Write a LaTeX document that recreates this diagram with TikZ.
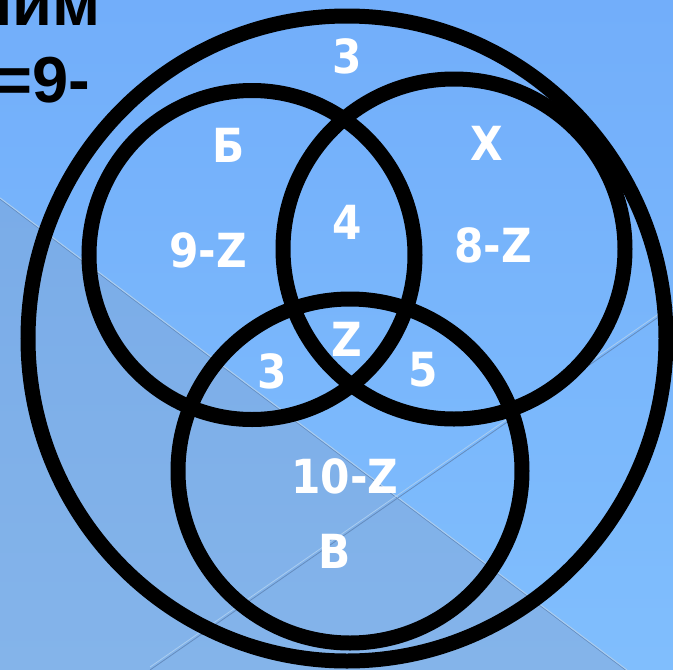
\documentclass[tikz,border=0pt]{standalone}
\usepackage{fontspec}
\setmainfont{Liberation Sans}
\newfontfamily\lblfont[FakeStretch=0.9]{DejaVu Sans}
\definecolor{bgtop}{RGB}{114,174,250}
\definecolor{bgbot}{RGB}{128,190,253}
\definecolor{shtop}{RGB}{122,172,232}
\definecolor{shbot}{RGB}{132,180,234}
\definecolor{edgedark}{RGB}{100,140,190}
\definecolor{edgelight}{RGB}{170,205,240}
\tikzset{
  ring/.style={draw=black, line width=15pt},
  lbl/.style={text=white, inner sep=0pt, font=\lblfont\bfseries\fontsize{47}{47}\selectfont},
  head/.style={text=black, inner sep=0pt, anchor=base east, font=\bfseries\fontsize{65}{65}\selectfont}
}
\begin{document}
\begin{tikzpicture}[x=1pt,y=-1pt]
\useasboundingbox (0,0) rectangle (673,670);
\clip (0,0) rectangle (673,670);
% background
\shade[top color=bgtop, bottom color=bgbot] (0,0) rectangle (673,670);
\shade[top color=shtop, bottom color=shbot] (0,198) -- (627,670) -- (0,670) -- cycle;
\coordinate (l1a) at (0,198);
\coordinate (l1b) at (627,670);
\draw[edgelight, line width=1.2pt] (l1a) -- (l1b);
\draw[edgedark, line width=0.6pt] ([yshift=-1.2pt]l1a) -- ([yshift=-1.2pt]l1b);
\coordinate (l2a) at (150,670);
\coordinate (l2b) at (673,307);
\draw[edgedark, line width=0.8pt] (l2a) -- (l2b);
\draw[edgelight, line width=0.8pt] ([yshift=3pt]l2a) -- ([yshift=3pt]l2b);
% header text (cut off)
\node[head] (h1) at (101,25) {ним};
\node[head] (h2) at (90,102) {=9-};
% rings
\draw[ring] (347,338.5) ellipse [x radius=319, y radius=322.5];
\draw[ring] (252,255) ellipse [x radius=163, y radius=164.5];
\draw[ring] (454,249) ellipse [x radius=171, y radius=170];
\draw[ring] (350,471) ellipse [x radius=172, y radius=172];
% labels
\node[lbl] (t3) at (347,56) {3};
\node[lbl] (tb) at (229,145) {Б};
\node[lbl] (tx) at (487,143) {Х};
\node[lbl] (t9z) at (208,250) {9-Z};
\node[lbl] (t4) at (347,222) {4};
\node[lbl] (t8z) at (493,245) {8-Z};
\node[lbl] (tz) at (347,339) {Z};
\node[lbl] (t3b) at (272,371) {3};
\node[lbl] (t5) at (423,370) {5};
\node[lbl] (t10z) at (345,476) {10-Z};
\node[lbl] (tv) at (335,551) {В};
\end{tikzpicture}
\end{document}
